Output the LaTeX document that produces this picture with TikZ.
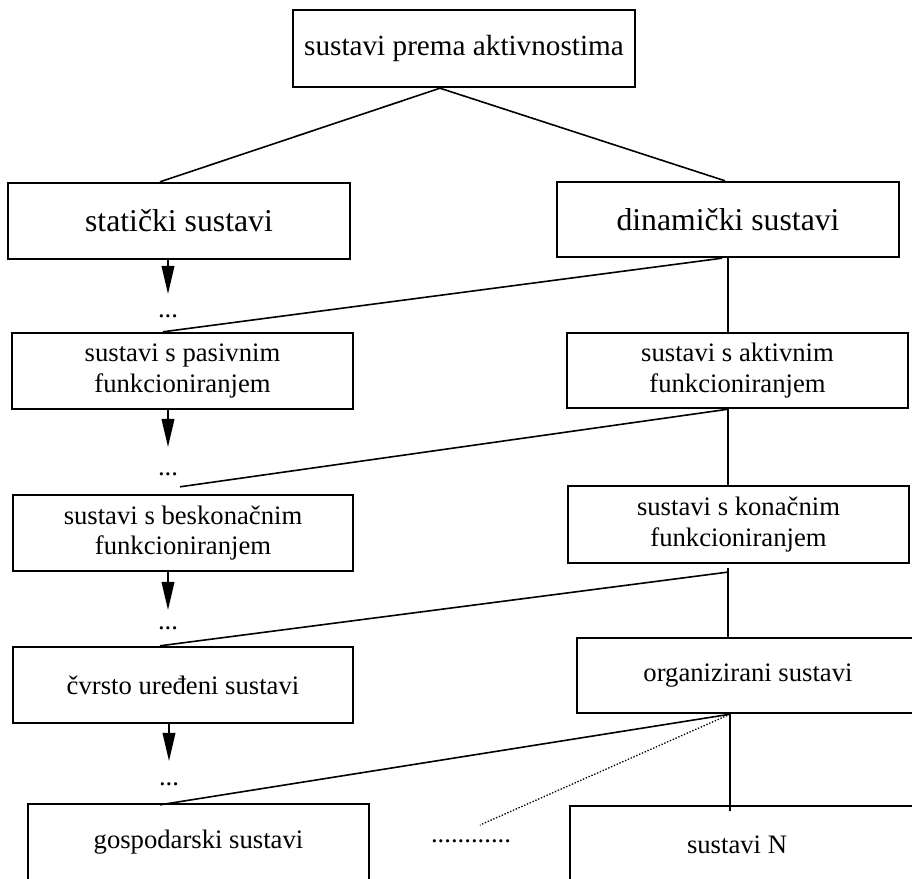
\documentclass[tikz,border=0pt]{standalone}
\usepackage{fontspec}
\setmainfont{Liberation Serif}
\usetikzlibrary{calc,arrows.meta}
\begin{document}
\begin{tikzpicture}[x=0.75pt,y=-0.75pt,
  box/.style 2 args={draw, line width=1.8pt, rectangle, inner sep=0pt, align=center,
    minimum width={#1*0.75pt}, minimum height={#2*0.75pt}},
  toptxt/.style={font=\fontsize{21.9}{25}\selectfont},
  bigtxt/.style={font=\fontsize{23.8}{27}\selectfont},
  smalltxt/.style={font=\fontsize{20}{23}\selectfont},
  dots/.style={smalltxt, inner sep=0pt, anchor=base},
  link/.style={line width=1.2pt},
  flow/.style={line width=1.2pt, -{Triangle[length=21pt,width=9.5pt]}},
  dotlink/.style={line width=1pt, dash pattern=on 1pt off 1.3pt}]
\useasboundingbox (0,0) rectangle (912,878);
\clip (0,0) rectangle (912,878);

% boxes
\node[box={342}{77}, toptxt] (top) at (464,48.5) {sustavi prema aktivnostima};
\node[box={342}{76}, bigtxt] (stat) at (179,221) {statički sustavi};
\node[box={342}{75}, bigtxt] (dyn) at (728,219.5) {dinamički sustavi};
\node[box={341}{76}, smalltxt] (pas) at (182.5,371) {sustavi s pasivnim\\funkcioniranjem};
\node[box={341}{75}, smalltxt] (akt) at (737.5,370.5) {sustavi s aktivnim\\funkcioniranjem};
\node[box={340}{76}, smalltxt] (besk) at (183,533) {sustavi s beskonačnim\\funkcioniranjem};
\node[box={341}{77}, smalltxt] (kon) at (738.5,524.5) {sustavi s konačnim\\funkcioniranjem};
\node[box={340}{76}, smalltxt] (cvr) at (183,685) {čvrsto uređeni sustavi};
\node[box={342}{75}, smalltxt] (org) at (748,675.5) {organizirani sustavi};
\node[box={341}{77}, smalltxt] (gos) at (198.5,842.5) {gospodarski sustavi};
\node[box={370}{77}, smalltxt] (sn) at (755,844.5) {sustavi N\hspace*{27pt}};

% ellipses between the static chain
\node[dots] (d1) at (168,317) {...};
\node[dots] (d2) at (168,475) {...};
\node[dots] (d3) at (168,629) {...};
\node[dots] (d4) at (169,785) {...};
\node[dots] (hd) at (471,842) {............};
\coordinate (dend) at (480,825);

% static chain arrows
\draw[flow] (stat.south -| d1) -- ($(d1.north)+(0,-20)$);
\draw[flow] (pas.south -| d2) -- ($(d2.north)+(0,-25)$);
\draw[flow] (besk.south -| d3) -- ($(d3.north)+(0,-16)$);
\draw[flow] (cvr.south -| d4) -- ($(d4.north)+(0,-21)$);

% branches from the root
\draw[link] ($(top.south)+(-24,0)$) -- ($(stat.north)+(-19,0)$);
\draw[link] ($(top.south)+(-24,0)$) -- ($(dyn.north)+(-3,0)$);

% dynamic chain and its cross links
\draw[link] ($(dyn.south)+(-6,0)$) -- ($(pas.north)+(-19.5,0)$);
\draw[link] (dyn.south) -- (dyn.south |- akt.north);
\draw[link] (akt.south -| dyn.south) -- ($(besk.north)+(-3,-7)$);
\draw[link] (akt.south -| dyn.south) -- (kon.north -| dyn.south);
\draw[link] ($(kon.south -| dyn.south)+(-1,8)$) -- ($(cvr.north)+(-23,0)$);
\draw[link] ($(kon.south -| dyn.south)+(0,4)$) -- ($(org.north -| dyn.south)+(0,2)$);
\draw[link] ($(org.south -| dyn.south)+(2,0)$) -- ($(gos.north)+(-38.5,2)$);
\draw[link] ($(org.south -| dyn.south)+(2,0)$) -- ($(sn.north -| dyn.south)+(2,6)$);
\draw[dotlink] ($(org.south -| dyn.south)+(2,0)$) -- (dend);
\end{tikzpicture}
\end{document}
